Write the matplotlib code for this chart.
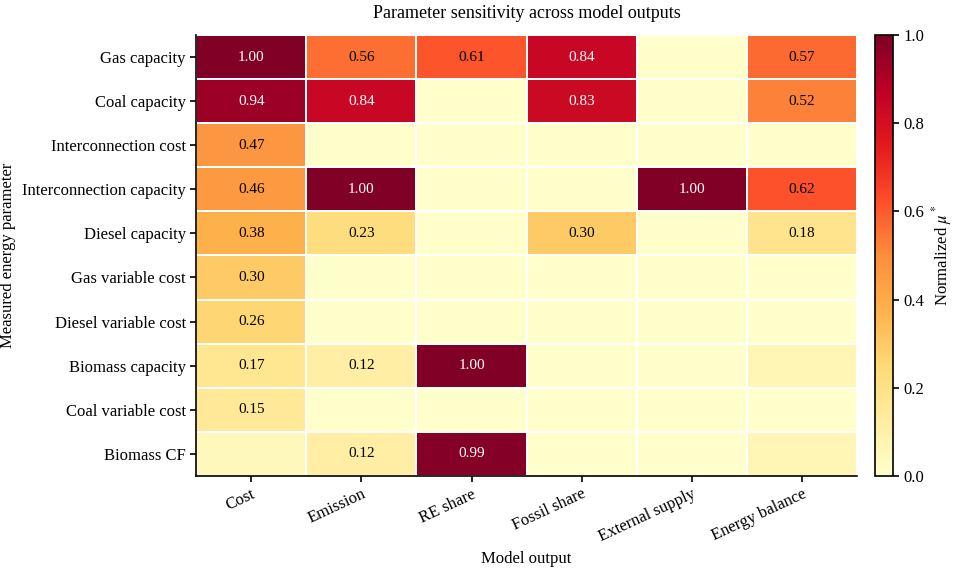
import numpy as np
import matplotlib
matplotlib.use("Agg")
import matplotlib.pyplot as plt

plt.rcParams['font.family'] = ['Liberation Serif', 'DejaVu Serif']
plt.rcParams['mathtext.fontset'] = 'stix'

rows = ["Gas capacity", "Coal capacity", "Interconnection cost", "Interconnection capacity",
        "Diesel capacity", "Gas variable cost", "Diesel variable cost", "Biomass capacity",
        "Coal variable cost", "Biomass CF"]
cols = ["Cost", "Emission", "RE share", "Fossil share", "External supply", "Energy balance"]

cost          = [1.00, 0.94, 0.47, 0.46, 0.38, 0.30, 0.26, 0.17, 0.15, 0.05]
emission      = [0.56, 0.84, 0.00, 1.00, 0.23, 0.00, 0.00, 0.12, 0.00, 0.12]
re_share      = [0.61, 0.00, 0.00, 0.00, 0.00, 0.00, 0.00, 1.00, 0.00, 0.99]
fossil_share  = [0.84, 0.83, 0.00, 0.00, 0.30, 0.00, 0.00, 0.00, 0.00, 0.00]
ext_supply    = [0.00, 0.00, 0.00, 1.00, 0.00, 0.00, 0.00, 0.00, 0.00, 0.00]
energy_bal    = [0.57, 0.52, 0.00, 0.62, 0.18, 0.00, 0.00, 0.07, 0.00, 0.07]

data = np.array([cost, emission, re_share, fossil_share, ext_supply, energy_bal]).T

fig = plt.figure(figsize=(9.57, 5.76), dpi=100)
ax = fig.add_axes([0.205, 0.174, 0.6905, 0.765])
cax = fig.add_axes([0.914, 0.174, 0.019, 0.765])

cmap = plt.get_cmap('YlOrRd')
mesh = ax.pcolormesh(data, cmap=cmap, vmin=0, vmax=1, edgecolors='white', linewidth=1.2)
ax.set_xlim(0, data.shape[1])
ax.set_ylim(data.shape[0], 0)

for i in range(data.shape[0]):
    for j in range(data.shape[1]):
        v = data[i, j]
        if v >= 0.1:
            ax.text(j + 0.5, i + 0.5, f"{v:.2f}", ha='center', va='center',
                    fontsize=11, color='white' if v > 0.7 else 'black')

ax.set_xticks(np.arange(len(cols)) + 0.5)
ax.set_xticklabels(cols, rotation=25, ha='right', rotation_mode='anchor', fontsize=12)
ax.set_yticks(np.arange(len(rows)) + 0.5)
ax.set_yticklabels(rows, fontsize=12)
ax.tick_params(direction='out', length=4, width=1.2)
for s in ['top', 'right']:
    ax.spines[s].set_visible(False)
for s in ['left', 'bottom']:
    ax.spines[s].set_linewidth(1.2)

ax.set_xlabel("Model output", fontsize=12)
ax.set_ylabel("Measured energy parameter", fontsize=12)
ax.set_title("Parameter sensitivity across model outputs", fontsize=13, pad=12)

cb = fig.colorbar(mesh, cax=cax)
cb.set_ticks([0, 0.2, 0.4, 0.6, 0.8, 1.0])
cb.ax.tick_params(labelsize=12, width=1.2, length=4)
cb.outline.set_linewidth(1.2)
cb.set_label(r"Normalized $\mu^*$", fontsize=12)

fig.savefig("out.png", dpi=100)
